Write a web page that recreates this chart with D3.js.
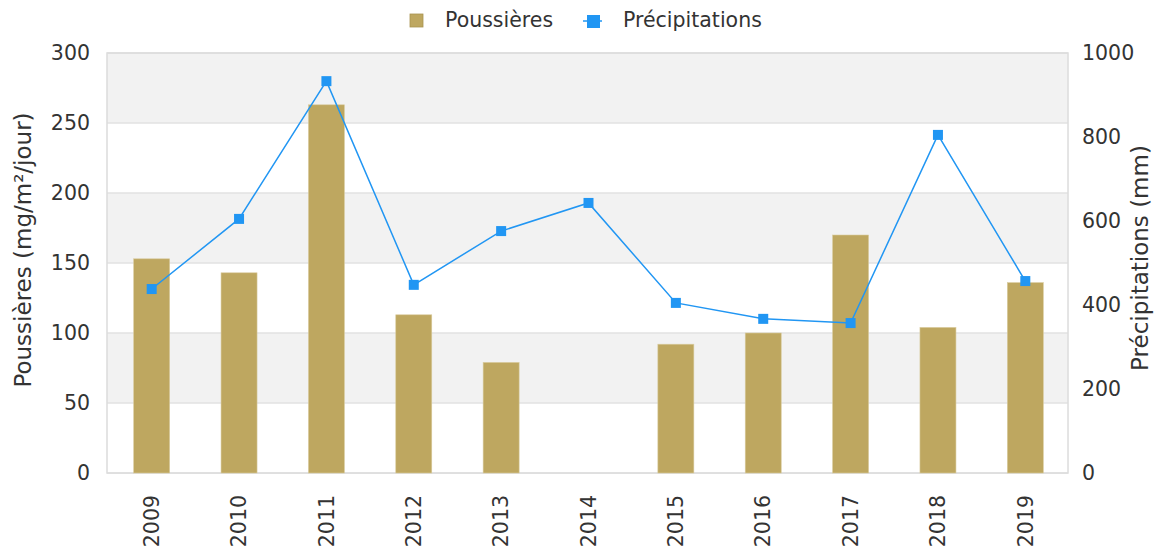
<!DOCTYPE html>
<html>
<head>
<meta charset="utf-8">
<script src="https://cdn.jsdelivr.net/npm/d3@7"></script>
<style>
  body { margin: 0; background: #fff; }
  text { font-family: "DejaVu Sans", sans-serif; fill: #333; }
</style>
</head>
<body>
<svg id="chart" width="1157" height="556"></svg>
<script>
// Données
const annees = ["2009", "2010", "2011", "2012", "2013", "2014", "2015", "2016", "2017", "2018", "2019"];
const poussieres = [153, 143, 263, 113, 79, null, 92, 100, 170, 104, 136];
const precipitations = [438, 605, 933, 448, 576, 643, 405, 367, 357, 805, 457];
const ticksGauche = [0, 50, 100, 150, 200, 250, 300];
const ticksDroite = [0, 200, 400, 600, 800, 1000];

let svg = d3.select("#chart"),
    margin = {top: 53, right: 89, bottom: 83, left: 107},
    width = 1157 - margin.left - margin.right,
    height = 556 - margin.top - margin.bottom;

let g = svg.append("g").attr("transform", `translate(${margin.left},${margin.top})`);

let x = d3.scaleBand().domain(annees).range([1, width + 1]);
let yG = d3.scaleLinear().domain([0, 300]).range([height, 0]);
let yD = d3.scaleLinear().domain([0, 1000]).range([height, 0]);

// Bandes alternées
for (let i = 0; i < ticksGauche.length - 1; i++) {
    g.append("rect")
        .attr("x", 0)
        .attr("y", yG(ticksGauche[i + 1]))
        .attr("width", width)
        .attr("height", yG(ticksGauche[i]) - yG(ticksGauche[i + 1]))
        .attr("fill", i % 2 === 1 ? "#f2f2f2" : "#ffffff");
}

// Grille
g.selectAll(".grid")
    .data(ticksGauche)
    .enter().append("line")
    .attr("x1", 0).attr("x2", width)
    .attr("y1", d => yG(d)).attr("y2", d => yG(d))
    .attr("stroke", "#e2e2e2")
    .attr("stroke-width", 1.5);

g.append("rect")
    .attr("width", width).attr("height", height)
    .attr("fill", "none")
    .attr("stroke", "#dcdcdc")
    .attr("stroke-width", 1.5);

// Barres
const barW = 36;
g.selectAll(".bar")
    .data(annees.map((a, i) => ({a: a, v: poussieres[i]})).filter(d => d.v !== null))
    .enter().append("rect")
    .attr("x", d => x(d.a) + x.bandwidth() / 2 - barW / 2)
    .attr("y", d => yG(d.v))
    .attr("width", barW)
    .attr("height", d => height - yG(d.v))
    .attr("fill", "#bea760")
    .attr("stroke", "#d9cc9f")
    .attr("stroke-width", 0.6);

// Ligne
let line = d3.line()
    .x((d, i) => x(annees[i]) + x.bandwidth() / 2)
    .y(d => yD(d));

g.append("path")
    .datum(precipitations)
    .attr("d", line)
    .attr("fill", "none")
    .attr("stroke", "#2196f3")
    .attr("stroke-width", 1.5);

g.selectAll(".pt")
    .data(precipitations)
    .enter().append("rect")
    .attr("x", (d, i) => x(annees[i]) + x.bandwidth() / 2 - 5)
    .attr("y", d => yD(d) - 5)
    .attr("width", 10).attr("height", 10)
    .attr("fill", "#2196f3");

// Axes
let axeG = g.append("g")
    .call(d3.axisLeft(yG).tickValues(ticksGauche).tickFormat(d3.format("d")).tickSize(0).tickPadding(17));
let axeD = g.append("g")
    .attr("transform", `translate(${width},0)`)
    .call(d3.axisRight(yD).tickValues(ticksDroite).tickFormat(d3.format("d")).tickSize(0).tickPadding(14));
let axeX = g.append("g")
    .attr("transform", `translate(0,${height})`)
    .call(d3.axisBottom(x).tickSize(0));

[axeG, axeD, axeX].forEach(a => a.select(".domain").remove());
[axeG, axeD, axeX].forEach(a => a.selectAll("text")
    .style("font-size", "20.5px")
    .attr("font-family", "DejaVu Sans")
    .attr("fill", "#333"));
axeX.selectAll("text")
    .attr("transform", "rotate(-90)")
    .attr("text-anchor", "end")
    .attr("x", -22)
    .attr("y", 0)
    .attr("dy", "0.35em");

// Titres des axes
svg.append("text")
    .attr("transform", "translate(31,250) rotate(-90)")
    .attr("text-anchor", "middle")
    .style("font-size", "23px")
    .text("Poussières (mg/m²/jour)");

svg.append("text")
    .attr("transform", `translate(1148,${margin.top + height / 2 - 5}) rotate(-90)`)
    .attr("text-anchor", "middle")
    .style("font-size", "23px")
    .text("Précipitations (mm)");

// Légende
let leg = svg.append("g");
leg.append("rect").attr("x", 410).attr("y", 14).attr("width", 13).attr("height", 13)
    .attr("fill", "#bea760").attr("stroke", "#a89350").attr("stroke-width", 0.8);
leg.append("text").attr("x", 445).attr("y", 27).style("font-size", "20.5px").text("Poussières");
leg.append("line").attr("x1", 583).attr("x2", 602).attr("y1", 21).attr("y2", 21)
    .attr("stroke", "#2196f3").attr("stroke-width", 1.5);
leg.append("rect").attr("x", 587).attr("y", 15).attr("width", 13).attr("height", 13)
    .attr("fill", "#2196f3");
leg.append("text").attr("x", 623).attr("y", 27).style("font-size", "20.5px").text("Précipitations");
</script>
</body>
</html>
